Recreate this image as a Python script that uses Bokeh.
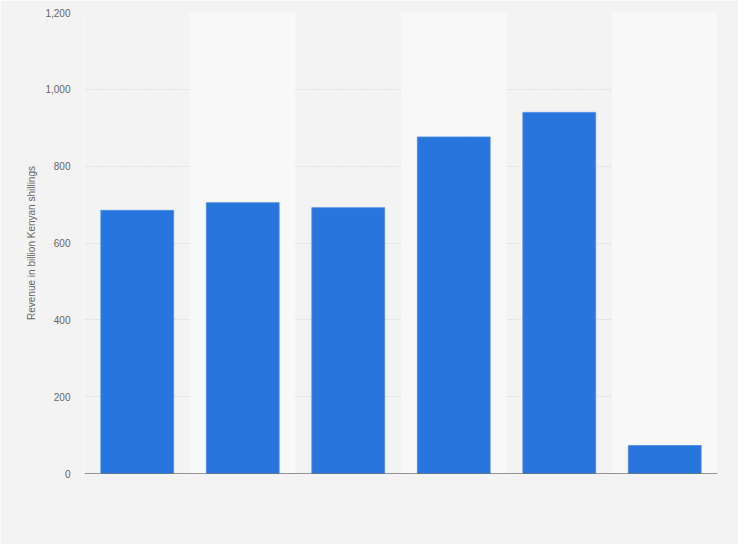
from bokeh.plotting import figure
from bokeh.models import FactorRange, Range1d, NumeralTickFormatter, FixedTicker, Span
from bokeh.embed import file_html
from bokeh.resources import INLINE

categories = ["2018/19", "2019/20", "2020/21", "2021/22", "2022/23", "2023/24"]
revenue = [685, 705, 692, 876, 940, 73]
y_ticks = [0, 200, 400, 600, 800, 1000, 1200]
y_max = 1200

band_cats = categories[1::2]
band_tops = [y_max] * len(band_cats)

p = figure(
    x_range=FactorRange(*categories, range_padding=0),
    y_range=Range1d(0, y_max),
    width=738, height=544,
    output_backend="svg", toolbar_location=None,
    min_border_left=84, min_border_right=21,
    min_border_top=12, min_border_bottom=71,
)
p.background_fill_color = "#f3f3f3"
p.border_fill_color = "#f3f3f3"
p.outline_line_color = None

# alternating column bands
p.vbar(x=band_cats, top=band_tops, bottom=0, width=1.0,
       fill_color="#f8f8f8", line_color=None)

p.vbar(x=categories, top=revenue, width=0.69,
       fill_color="#2876dd", line_color="#4a8ae6", line_width=0.8)

# y axis
p.yaxis.ticker = FixedTicker(ticks=y_ticks)
p.yaxis.formatter = NumeralTickFormatter(format="0,0")
p.yaxis.axis_label = "Revenue in billion Kenyan shillings"
p.yaxis.axis_label_text_font = "Liberation Sans"
p.yaxis.axis_label_text_font_size = "10px"
p.yaxis.axis_label_text_font_style = "normal"
p.yaxis.axis_label_text_color = "#666666"
p.yaxis.axis_label_standoff = 5
p.yaxis.major_label_text_font = "Liberation Sans"
p.yaxis.major_label_text_font_size = "10px"
p.yaxis.major_label_text_color = "#666666"
p.yaxis.major_label_standoff = 8
p.yaxis.axis_line_color = None
p.yaxis.major_tick_line_color = None
p.yaxis.minor_tick_line_color = None

# x axis hidden; baseline drawn at zero
p.xaxis.visible = False
p.add_layout(Span(location=0, dimension="width", line_color="#333333", line_width=1.2))

p.xgrid.grid_line_color = None
p.ygrid.grid_line_color = "#cccccc"
p.ygrid.grid_line_dash = "1 2"
p.ygrid.grid_line_width = 1

open("out.html", "w").write(file_html(p, INLINE))
